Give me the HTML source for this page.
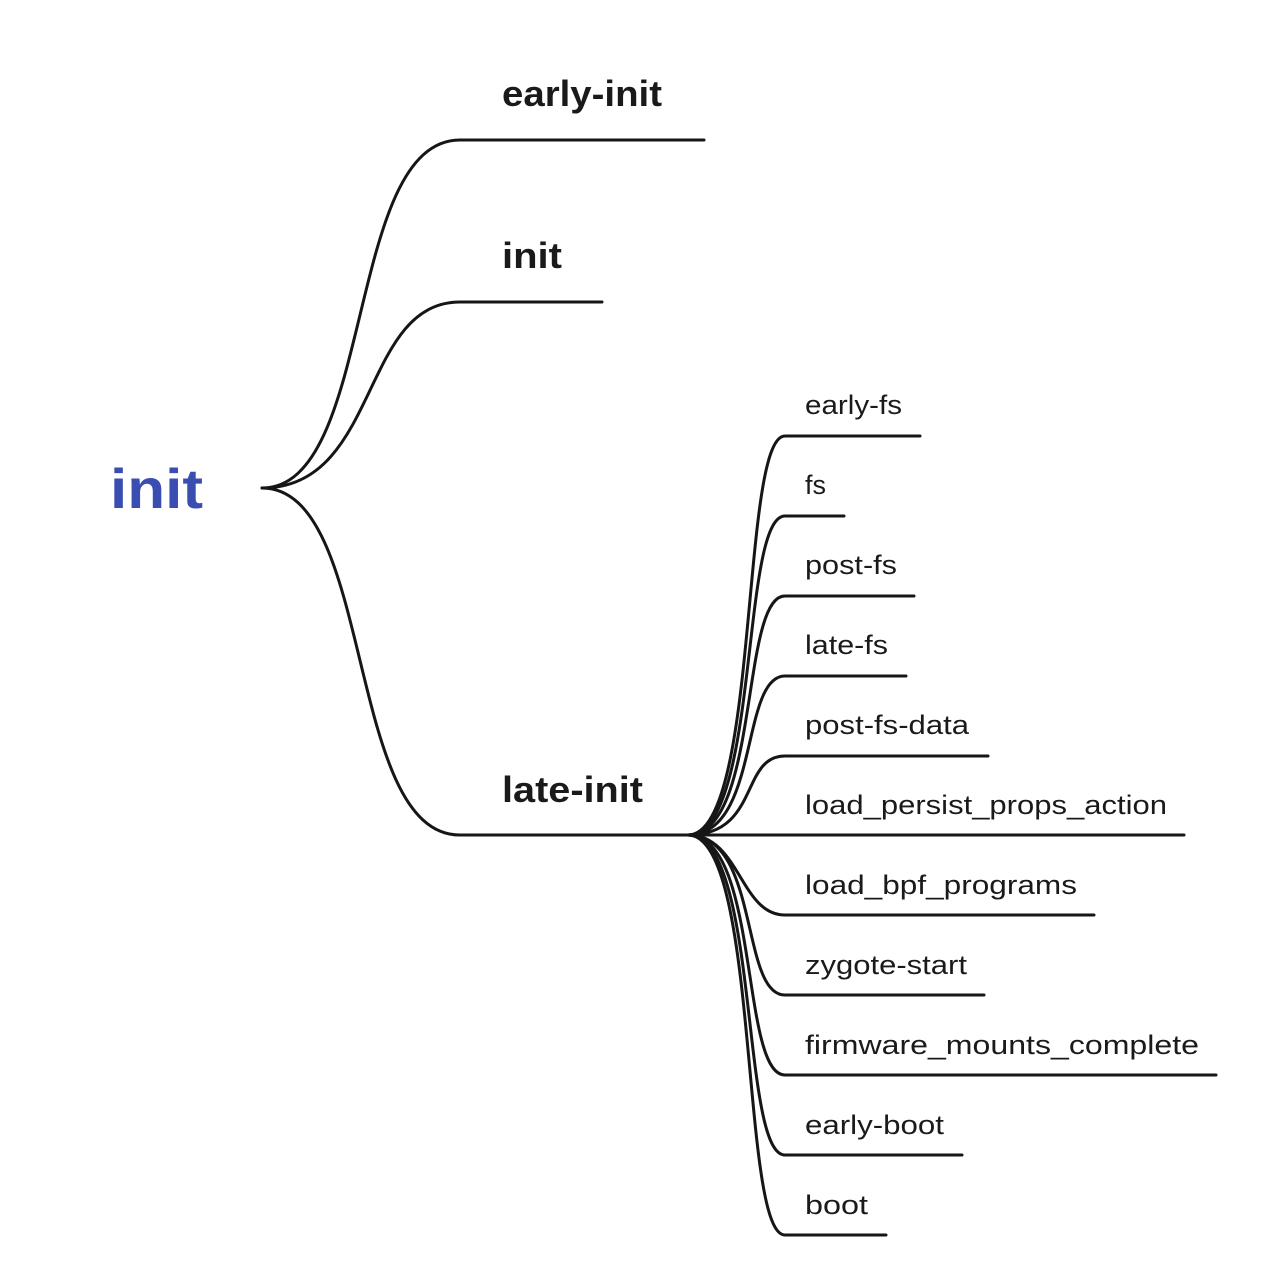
<!DOCTYPE html>
<html><head><meta charset="utf-8">
<style>
html,body{margin:0;padding:0;background:#fff;}
svg{display:block;}
text{font-family:"Liberation Sans",sans-serif;fill:#1a1a1a;}
</style></head>
<body>
<svg width="1266" height="1288" viewBox="0 0 1266 1288" xmlns="http://www.w3.org/2000/svg">
<g fill="none" stroke="#161616" stroke-width="3" stroke-linecap="round">
<path d="M262,488 C375,488 345,140 460,140 L704,140"/>
<path d="M262,488 C380,488 360,302 460,302 L602,302"/>
<path d="M262,488 C375,488 345,835 460,835 L692,835"/>
<path d="M688,835 C760,835 740,436 785,436 L920,436"/>
<path d="M688,835 C760,835 740,516 785,516 L844,516"/>
<path d="M688,835 C760,835 740,596 785,596 L914,596"/>
<path d="M688,835 C760,835 740,676 785,676 L906,676"/>
<path d="M688,835 C760,835 740,756 785,756 L988,756"/>
<path d="M688,835 L1184,835"/>
<path d="M688,835 C740,835 740,915 785,915 L1094,915"/>
<path d="M688,835 C760,835 740,995 785,995 L984,995"/>
<path d="M688,835 C760,835 740,1075 785,1075 L1216,1075"/>
<path d="M688,835 C760,835 740,1155 785,1155 L962,1155"/>
<path d="M688,835 C760,835 740,1235 785,1235 L886,1235"/>
</g>
<text x="110" y="508" font-size="56" font-weight="bold" style="fill:#3a4db0" textLength="93" lengthAdjust="spacingAndGlyphs">init</text>
<text x="502" y="106" font-size="36" font-weight="bold" textLength="160" lengthAdjust="spacingAndGlyphs">early-init</text>
<text x="502" y="268" font-size="36" font-weight="bold" textLength="60" lengthAdjust="spacingAndGlyphs">init</text>
<text x="502" y="802" font-size="36" font-weight="bold" textLength="141" lengthAdjust="spacingAndGlyphs">late-init</text>
<g font-size="27">
<text x="805" y="414" textLength="97" lengthAdjust="spacingAndGlyphs">early-fs</text>
<text x="805" y="494" textLength="21" lengthAdjust="spacingAndGlyphs">fs</text>
<text x="805" y="574" textLength="92" lengthAdjust="spacingAndGlyphs">post-fs</text>
<text x="805" y="654" textLength="83" lengthAdjust="spacingAndGlyphs">late-fs</text>
<text x="805" y="734" textLength="164" lengthAdjust="spacingAndGlyphs">post-fs-data</text>
<text x="805" y="814" textLength="362" lengthAdjust="spacingAndGlyphs">load_persist_props_action</text>
<text x="805" y="894" textLength="272" lengthAdjust="spacingAndGlyphs">load_bpf_programs</text>
<text x="805" y="974" textLength="162" lengthAdjust="spacingAndGlyphs">zygote-start</text>
<text x="805" y="1054" textLength="394" lengthAdjust="spacingAndGlyphs">firmware_mounts_complete</text>
<text x="805" y="1134" textLength="139" lengthAdjust="spacingAndGlyphs">early-boot</text>
<text x="805" y="1214" textLength="63" lengthAdjust="spacingAndGlyphs">boot</text>
</g>
</svg>
</body></html>
